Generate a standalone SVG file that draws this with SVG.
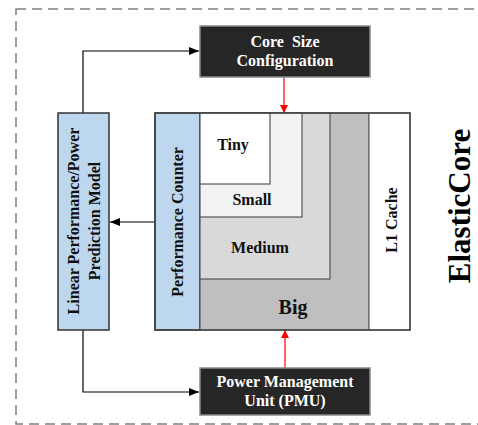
<svg xmlns="http://www.w3.org/2000/svg" width="478" height="425" viewBox="0 0 478 425">
  <defs>
    <marker id="arrowBlack" markerWidth="10" markerHeight="8" refX="10" refY="4" orient="auto" markerUnits="userSpaceOnUse">
      <path d="M0,0 L10,4 L0,8 Z" fill="#000"/>
    </marker>
    <marker id="arrowRed" markerWidth="8" markerHeight="8" refX="8" refY="4" orient="auto" markerUnits="userSpaceOnUse">
      <path d="M0,0 L8,4 L0,8 Z" fill="#ff0000"/>
    </marker>
  </defs>
  <style>
    text { font-family: "Liberation Serif", "Times New Roman", serif; font-weight: bold; text-anchor: middle; }
    .dark { fill: #262626; stroke: #8a8a8a; stroke-width: 1.5; }
    .darktxt { fill: #ffffff; font-size: 16px; }
    .blue { fill: #bdd7ee; stroke: #333; stroke-width: 1.5; }
    .lbl { fill: #111; font-size: 16px; }
    .conn { fill: none; stroke: #000; stroke-width: 1.2; }
    .red { fill: none; stroke: #ff0000; stroke-width: 1.2; }
    .frame { fill: none; stroke: #808080; stroke-width: 1.5; stroke-dasharray: 10 6; }
    .cell { stroke: #555; stroke-width: 1.2; }
  </style>

  <!-- outer dashed boundary -->
  <rect class="frame" x="16" y="9" width="500" height="415"/>

  <!-- connectors -->
  <g id="connectors">
    <polyline class="conn" points="83,113 83,51 199,51" marker-end="url(#arrowBlack)"/>
    <polyline class="conn" points="83,330 83,392 199,392" marker-end="url(#arrowBlack)"/>
    <line class="conn" x1="155" y1="222" x2="110" y2="222" marker-end="url(#arrowBlack)"/>
    <line class="red" x1="284" y1="77" x2="284" y2="113" marker-end="url(#arrowRed)"/>
    <line class="red" x1="285" y1="368" x2="285" y2="330" marker-end="url(#arrowRed)"/>
  </g>

  <!-- configuration block -->
  <g id="core-size-config">
    <rect class="dark" x="200" y="26" width="170" height="51"/>
    <text class="darktxt" x="285" y="47">Core&#160; Size</text>
    <text class="darktxt" x="285" y="66">Configuration</text>
  </g>

  <!-- power management unit -->
  <g id="pmu">
    <rect class="dark" x="200" y="368" width="170" height="47"/>
    <text class="darktxt" x="285" y="387">Power Management</text>
    <text class="darktxt" x="285" y="406">Unit (PMU)</text>
  </g>

  <!-- prediction model -->
  <g id="prediction-model">
    <rect class="blue" x="58" y="113" width="51" height="217"/>
    <text class="lbl" transform="translate(79,221) rotate(-90)">Linear Performance/Power</text>
    <text class="lbl" transform="translate(100,221) rotate(-90)">Prediction Model</text>
  </g>

  <!-- performance counter -->
  <g id="performance-counter">
    <rect class="blue" x="155" y="113" width="45" height="217"/>
    <text class="lbl" transform="translate(183,222) rotate(-90)">Performance Counter</text>
  </g>

  <!-- nested core sizes -->
  <g id="core-big">
    <rect class="cell" x="200" y="113" width="169" height="217" fill="#bfbfbf"/>
    <text class="lbl" x="293" y="314" style="font-size:20px">Big</text>
  </g>
  <g id="core-medium">
    <rect class="cell" x="200" y="113" width="130" height="166" fill="#d9d9d9"/>
    <text class="lbl" x="260" y="253">Medium</text>
  </g>
  <g id="core-small">
    <rect class="cell" x="200" y="113" width="102" height="104" fill="#f2f2f2"/>
    <text class="lbl" x="252" y="205">Small</text>
  </g>
  <g id="core-tiny">
    <rect class="cell" x="200" y="113" width="70" height="71" fill="#ffffff"/>
    <text class="lbl" x="233" y="150">Tiny</text>
  </g>

  <!-- cache -->
  <g id="l1-cache">
    <rect x="369" y="113" width="41" height="217" fill="#ffffff" stroke="#666" stroke-width="1.2"/>
    <text class="lbl" transform="translate(397,220) rotate(-90)">L1 Cache</text>
  </g>

  <!-- outline around the core block -->
  <rect x="155" y="113" width="255" height="217" fill="none" stroke="#444" stroke-width="1.5"/>

  <!-- title -->
  <g id="title">
    <text transform="translate(470,206) rotate(-90)" style="font-size:31px" fill="#000">ElasticCore</text>
  </g>
</svg>
